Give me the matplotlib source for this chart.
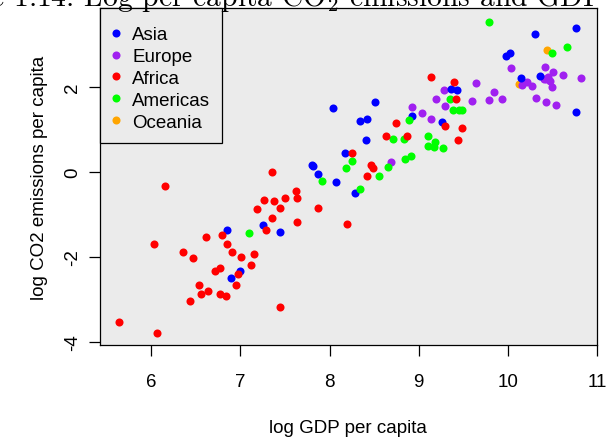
import matplotlib
matplotlib.use('Agg')
import matplotlib.pyplot as plt
from matplotlib.lines import Line2D

plt.rcParams['axes.unicode_minus'] = False
plt.rcParams['font.family'] = ['Liberation Sans', 'DejaVu Sans']
plt.rcParams['mathtext.fontset'] = 'cm'

regions = ['Asia', 'Europe', 'Africa', 'Americas', 'Oceania']
region_colors = ['#0000FF', '#A020F0', '#FF0000', '#00FF00', '#FFA500']

asia_x = [6.85, 7.25, 7.00, 6.89, 7.44, 7.80, 7.82, 7.87, 8.07, 8.17, 8.29, 8.04, 8.51, 8.34,
          8.42, 8.41, 8.92, 9.26, 9.36, 9.43, 9.98, 10.02, 10.30, 10.76, 10.15, 10.36, 10.76]
asia_y = [-1.38, -1.24, -2.34, -2.49, -1.41, 0.17, 0.13, -0.05, -0.25, 0.44, -0.50, 1.50, 1.64, 1.19,
          1.24, 0.75, 1.31, 1.17, 1.94, 1.91, 2.72, 2.78, 3.24, 3.38, 2.20, 2.25, 1.41]

europe_x = [8.69, 8.92, 9.04, 9.14, 9.19, 9.28, 9.29, 9.60, 9.64, 9.79, 9.84, 9.93, 10.03, 10.42,
            10.51, 10.62, 10.82, 10.43, 10.47, 10.50, 10.45, 10.21, 10.27, 10.16, 10.32, 10.43, 10.54, 10.40]
europe_y = [0.23, 1.53, 1.38, 1.25, 1.72, 1.92, 1.55, 1.66, 2.08, 1.68, 1.88, 1.72, 2.43, 2.46,
            2.35, 2.27, 2.21, 2.18, 2.13, 1.99, 2.22, 2.11, 2.02, 2.04, 1.74, 1.64, 1.57, 2.18]

africa_x = [5.64, 6.07, 6.03, 6.16, 6.36, 6.47, 6.62, 6.79, 6.85, 6.91, 7.01, 7.15, 7.12, 6.72, 6.77,
            6.97, 6.95, 6.54, 6.56, 6.64, 6.44, 6.77, 6.84, 7.19, 7.27, 7.29, 7.35, 7.38, 7.44, 7.50,
            7.62, 7.64, 7.36, 7.44, 7.63, 7.87, 8.20, 8.25, 8.47, 8.49, 8.42, 8.63, 8.87, 8.74, 9.14,
            9.40, 9.42, 9.30, 9.49, 9.44]
africa_y = [-3.54, -3.79, -1.69, -0.33, -1.88, -2.02, -1.53, -1.49, -1.69, -1.88, -2.00, -1.94, -2.19,
            -2.32, -2.26, -2.41, -2.65, -2.65, -2.87, -2.79, -3.04, -2.87, -2.92, -0.88, -0.66, -1.38,
            -1.08, -0.69, -0.86, -0.62, -0.46, -0.61, 0.00, -3.18, -1.19, -0.85, -1.22, 0.45, 0.16, 0.08,
            -0.11, 0.83, 0.83, 1.14, 2.22, 2.11, 1.71, 1.08, 1.03, 0.74]

americas_x = [7.10, 7.92, 8.18, 8.25, 8.34, 8.55, 8.66, 8.71, 8.83, 8.89, 8.85, 8.91, 9.10, 9.11,
              9.18, 9.17, 9.27, 9.35, 9.39, 9.45, 9.49, 9.79, 10.50, 10.66]
americas_y = [-1.43, -0.22, 0.09, 0.25, -0.41, -0.11, 0.11, 0.77, 0.77, 1.21, 0.30, 0.38, 0.83, 0.61,
              0.70, 0.58, 0.56, 1.72, 1.45, 1.45, 1.45, 3.51, 2.80, 2.93]

oceania_x = [10.44, 10.13]
oceania_y = [2.85, 2.05]

x_ticks = [6, 7, 8, 9, 10, 11]
y_ticks = [-4, -2, 0, 2]

W, H = 606, 439
fig = plt.figure(figsize=(W / 100, H / 100), dpi=100)
ax = fig.add_axes([99.5 / W, 1 - 346 / H, (597 - 99.5) / W, (346 - 9.3) / H])
ax.set_facecolor('#EBEBEB')

series = {
    'Asia': (asia_x, asia_y),
    'Europe': (europe_x, europe_y),
    'Africa': (africa_x, africa_y),
    'Americas': (americas_x, americas_y),
    'Oceania': (oceania_x, oceania_y),
}
col = dict(zip(regions, region_colors))
for r in ['Oceania', 'Europe', 'Asia', 'Americas', 'Africa']:
    xs, ys = series[r]
    ax.plot(xs, ys, ls='', marker='o', markersize=5.8, markeredgewidth=0, color=col[r])

ax.set_xlim(5.42, 11.0)
ax.set_ylim(-4.07, 3.84)
ax.set_xticks(x_ticks)
ax.set_yticks(y_ticks)
ax.set_xticklabels([str(t) for t in x_ticks])
ax.set_yticklabels([str(t) for t in y_ticks])
ax.tick_params(direction='out', length=8.1, width=0.9, labelsize=13.5, color='black')
ax.tick_params(axis='x', pad=12.4)
ax.tick_params(axis='y', pad=5)
for lab in ax.get_yticklabels():
    lab.set_rotation(90)
    lab.set_va('center')
for s in ax.spines.values():
    s.set_linewidth(0.9)
    s.set_color('black')

handles = [Line2D([], [], ls='', marker='o', markersize=5.8, markeredgewidth=0, color=c)
           for c in region_colors]
leg = ax.legend(handles, regions, loc='upper left', bbox_to_anchor=(0, 1), borderaxespad=0,
                fontsize=13.5, frameon=True, fancybox=False, edgecolor='black',
                facecolor='#EBEBEB', framealpha=1, borderpad=0.65, handlelength=0.5,
                handletextpad=0.59, labelspacing=0.25, title=' ', title_fontsize=1)
leg.get_frame().set_linewidth(0.9)

fig.text(348 / W, 1 - 429 / H, 'log GDP per capita', ha='center', va='center', fontsize=13.5)
fig.text(40 / W, 1 - 178 / H, 'log CO2 emissions per capita', ha='center', va='center',
         rotation=90, fontsize=13.5)
fig.text(603 / W, 1 - 5.5 / H, 'Figure 1.14: Log per capita CO$_2$ emissions and GDP',
         ha='right', va='baseline', fontsize=21.3, family='cmr10')

fig.savefig('out.png', dpi=100)
